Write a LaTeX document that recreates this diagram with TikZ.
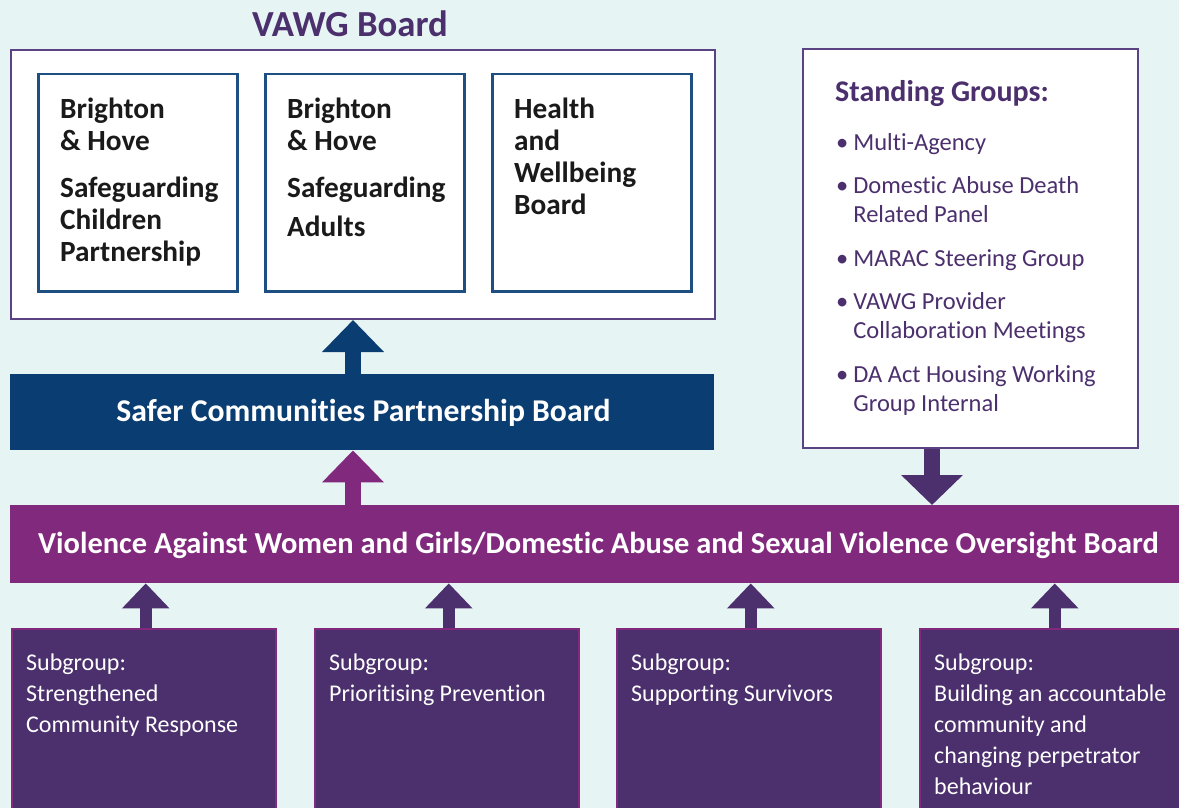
\documentclass[tikz,border=0pt]{standalone}
\usepackage{fontspec}
\setmainfont{Carlito}[Ligatures=NoCommon]
\usetikzlibrary{arrows.meta}

\definecolor{bgc}{HTML}{E7F4F4}
\definecolor{plum}{HTML}{4B306D}
\definecolor{plumline}{HTML}{5B4282}
\definecolor{magentac}{HTML}{812A7D}
\definecolor{navyc}{HTML}{0A3D72}
\definecolor{navyline}{HTML}{1D4F82}
\definecolor{inkc}{HTML}{1A1A1A}

\tikzset{
  panel/.style={draw, fill=white, inner sep=0pt, anchor=north west},
  band/.style={fill=#1, inner sep=0pt, anchor=north west},
  subbox/.style={draw=magentac, line width=1.5pt, fill=plum, inner sep=0pt, anchor=north west,
    minimum width=264pt, minimum height=200pt},
  blockarrow/.style n args={4}{draw=#1, fill=#1, line width=#2,
    -{Triangle[width=#3,length=#4]}},
  % multi-line texts are placed by the baseline of their last line
  innertext/.style={anchor=base west, align=left, inner sep=0pt, text=inkc,
    font=\bfseries\fontsize{29.3}{32}\selectfont},
  subtext/.style={anchor=base west, align=left, inner sep=0pt, text=white,
    font=\fontsize{24}{31}\selectfont},
  bandtext/.style={anchor=base, inner sep=0pt, text=white},
}

\begin{document}
\begin{tikzpicture}[x=1pt,y=-1pt]
\useasboundingbox (0,0) rectangle (1179,808);
\clip (0,0) rectangle (1179,808);
\fill[bgc] (0,0) rectangle (1179,808);

% VAWG board with its three member boards
\node[anchor=base, inner sep=0pt, text=plum, font=\bfseries\fontsize{36.7}{40}\selectfont]
  (vawgtitle) at (350,37) {VAWG Board};
\node[panel, draw=plumline, line width=2pt, minimum width=704pt, minimum height=269pt]
  (vawg) at (10,49) {};
\node[panel, draw=navyline, line width=2.5pt, minimum width=199pt, minimum height=217pt]
  (bhscp) at (37,73) {};
\node[panel, draw=navyline, line width=2.5pt, minimum width=199pt, minimum height=217pt]
  (bhsab) at (264,73) {};
\node[panel, draw=navyline, line width=2.5pt, minimum width=199pt, minimum height=217pt]
  (hwb) at (491,73) {};
\node[innertext] (bhscptext) at (60,261)
  {Brighton\\\& Hove\\[15pt]Safeguarding\\Children\\Partnership};
\node[innertext] (bhsabtext) at (287,236)
  {Brighton\\\& Hove\\[15pt]Safeguarding\\[7pt]Adults};
\node[innertext] (hwbtext) at (514,214)
  {Health\\and\\Wellbeing\\Board};

% standing groups
\node[panel, draw=plumline, line width=2pt, minimum width=335pt, minimum height=399pt]
  (standing) at (802,48) {};
\node[anchor=base west, inner sep=0pt, text=plum, font=\bfseries\fontsize{30}{34}\selectfont]
  (standingtitle) at (835,102) {Standing Groups:};
\node[anchor=base west, align=left, inner sep=0pt, text=plum, font=\fontsize{24.5}{29}\selectfont]
  (standinglist) at (836,411)
  {\textbullet\hspace*{5pt}Multi-Agency\\[14.5pt]
   \textbullet\hspace*{5pt}Domestic Abuse Death\\
   \phantom{\textbullet}\hspace*{5pt}Related Panel\\[14.5pt]
   \textbullet\hspace*{5pt}MARAC Steering Group\\[14.5pt]
   \textbullet\hspace*{5pt}VAWG Provider\\
   \phantom{\textbullet}\hspace*{5pt}Collaboration Meetings\\[14.5pt]
   \textbullet\hspace*{5pt}DA Act Housing Working\\
   \phantom{\textbullet}\hspace*{5pt}Group Internal};

% partnership and oversight bands
\node[band=navyc, minimum width=704pt, minimum height=76pt] (safer) at (10,374) {};
\node[bandtext, font=\bfseries\fontsize{31.7}{36}\selectfont] (safertext) at (363.5,421)
  {Safer Communities Partnership Board};
\node[band=magentac, minimum width=1180pt, minimum height=78pt] (oversight) at (10,505) {};
\node[bandtext, font=\bfseries\fontsize{30.45}{36}\selectfont] (oversighttext) at (598.5,553)
  {Violence Against Women and Girls/Domestic Abuse and Sexual Violence Oversight Board};

% subgroups
\node[subbox] (sg1) at (11,628) {};
\node[subbox] (sg2) at (314,628) {};
\node[subbox] (sg3) at (616,628) {};
\node[subbox, minimum width=266pt] (sg4) at (919,628) {};
\node[subtext] (sg1text) at (26,732) {Subgroup:\\Strengthened\\Community Response};
\node[subtext] (sg2text) at (329,701) {Subgroup:\\Prioritising Prevention};
\node[subtext] (sg3text) at (631,701) {Subgroup:\\Supporting Survivors};
\node[subtext] (sg4text) at (934,794)
  {Subgroup:\\Building an accountable\\community and\\changing perpetrator\\behaviour};

% reporting arrows
\coordinate (upline) at (353,0);
\coordinate (downline) at (932,0);
\draw[blockarrow={navyc}{16pt}{60pt}{32pt}] (safer.north -| upline) -- (vawg.south -| upline);
\draw[blockarrow={magentac}{16pt}{60pt}{32pt}] (oversight.north -| upline) -- (safer.south -| upline);
\draw[blockarrow={plum}{16pt}{60pt}{30pt}] (standing.south -| downline) -- (oversight.north -| downline);
\foreach \s in {sg1,sg2,sg3,sg4}
  \draw[blockarrow={plum}{12pt}{46pt}{25pt}] ([xshift=2pt]\s.north) -- ([xshift=2pt]\s.north |- oversight.south);
\end{tikzpicture}
\end{document}
